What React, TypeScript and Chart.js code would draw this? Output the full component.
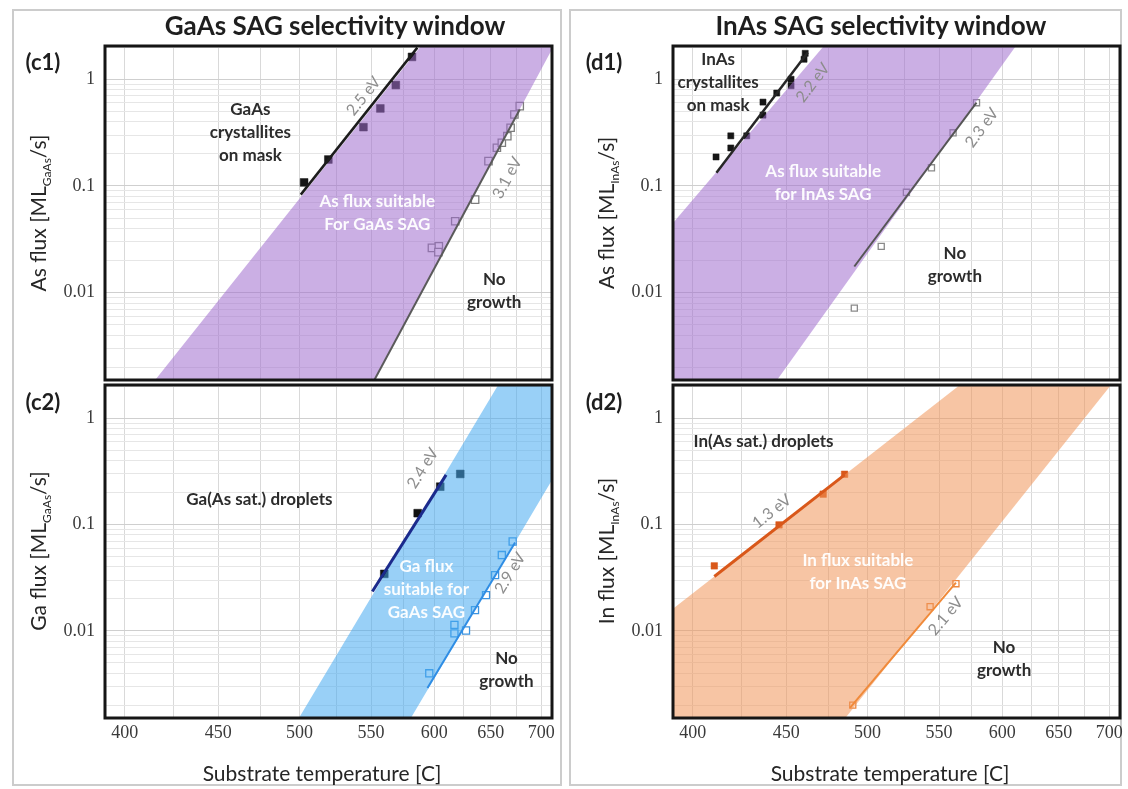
import React, { useEffect, useRef } from "react";
import { Chart, registerables } from "chart.js";

Chart.register(...registerables);

// ---------------- axes ----------------
const gridTemps = [400, 425, 450, 475, 500, 525, 550, 575, 600, 625, 650, 675, 700];
const labeledTemps = [400, 450, 500, 550, 600, 650, 700];
const tempRange = [390.3, 711.2];
const fluxRange = [0.00152, 2.05];
const fluxDecades = [0.001, 0.01, 0.1, 1];
const fluxDecadeLabels = ["0.001", "0.01", "0.1", "1"];
const fluxMinorSteps = [1, 2, 3, 4, 5, 6, 7, 8, 9];

// ---------------- (c1) As flux, GaAs ----------------
const c1FilledT = [503, 519.4, 544.4, 557, 568.9, 581.7];
const c1FilledFlux = [0.108, 0.177, 0.356, 0.533, 0.883, 1.62];
const c1OpenT = [598, 603.8, 603.4, 617.9, 635.6, 647.9, 655.8, 660.5, 665.8, 669, 672.7, 678];
const c1OpenFlux = [0.0263, 0.0272, 0.024, 0.0467, 0.0745, 0.171, 0.228, 0.254, 0.293, 0.351, 0.468, 0.56];
const c1FitAT = [500.8, 586];
const c1FitAFlux = [0.083, 1.98];
const c1FitBT = [552.5, 678];
const c1FitBFlux = [0.00152, 0.52];
const c1BandT = [415.5, 589, 711.2, 711.2, 552.5];
const c1BandFlux = [0.00152, 2.05, 2.05, 1.91, 0.00152];
const c1LabelText = ["GaAs\ncrystallites\non mask", "As flux suitable\nFor GaAs SAG", "No\ngrowth", "2.5 eV", "3.1 eV"];
const c1LabelT = [469, 554.7, 653.3, 544.5, 665.8];
const c1LabelFlux = [0.315, 0.0558, 0.0103, 0.695, 0.119];

// ---------------- (c2) Ga flux, GaAs ----------------
const c2FilledT = [560, 586.3, 605, 622.3];
const c2FilledFlux = [0.0344, 0.128, 0.227, 0.299];
const c2OpenT = [595.8, 617.2, 617.2, 627.4, 635.5, 645.6, 654.1, 660.5, 671];
const c2OpenFlux = [0.004, 0.0114, 0.0095, 0.0101, 0.0157, 0.0217, 0.0335, 0.0517, 0.0693];
const c2FitAT = [551, 610];
const c2FitAFlux = [0.0235, 0.293];
const c2FitBT = [594.3, 673.4];
const c2FitBFlux = [0.00291, 0.0678];
const c2BandT = [499.6, 657, 711.2, 711.2, 580.8];
const c2BandFlux = [0.00152, 2.05, 2.05, 0.263, 0.00152];
const c2LabelText = ["Ga(As sat.) droplets", "Ga flux\nsuitable for\nGaAs SAG", "No\ngrowth", "2.4 eV", "2.9 eV"];
const c2LabelT = [474.5, 593.4, 665, 590.4, 668.5];
const c2LabelFlux = [0.173, 0.0247, 0.00432, 0.338, 0.035];

// ---------------- (d1) As flux, InAs ----------------
const d1FilledT = [411.8, 419.5, 419.5, 428, 436.9, 436.9, 444.6, 452.8, 452.8, 460.4, 461.1];
const d1FilledFlux = [0.187, 0.227, 0.295, 0.295, 0.461, 0.611, 0.743, 1.0, 0.87, 1.54, 1.75];
const d1OpenT = [491.4, 509.1, 526.4, 544.4, 560.6, 578.9];
const d1OpenFlux = [0.00716, 0.0272, 0.0873, 0.148, 0.315, 0.603];
const d1FitAT = [412, 462.6];
const d1FitAFlux = [0.133, 1.78];
const d1FitBT = [491.4, 578.9];
const d1FitBFlux = [0.0176, 0.603];
const d1BandT = [390.3, 472.3, 611.5, 444.8, 390.3];
const d1BandFlux = [0.045, 2.05, 2.05, 0.00152, 0.00152];
const d1LabelText = ["InAs\ncrystallites\non mask", "As flux suitable\nfor InAs SAG", "No\ngrowth", "2.2 eV", "2.3 eV"];
const d1LabelT = [412.9, 471.9, 562, 465.7, 583.2];
const d1LabelFlux = [0.93, 0.107, 0.018, 0.93, 0.351];

// ---------------- (d2) In flux, InAs ----------------
const d2FilledT = [410.9, 445.9, 471.9, 485.2];
const d2FilledFlux = [0.0409, 0.0993, 0.193, 0.297];
const d2OpenT = [490.4, 543.4, 562.8];
const d2OpenFlux = [0.00201, 0.0169, 0.0278];
const d2FitAT = [410.9, 485.2];
const d2FitAFlux = [0.0325, 0.293];
const d2FitBT = [488.6, 562.8];
const d2FitBFlux = [0.00189, 0.0284];
const d2BandT = [390.3, 565.8, 701.7, 485.7, 390.3];
const d2BandFlux = [0.0162, 2.05, 2.05, 0.00152, 0.00152];
const d2LabelText = ["In(As sat.) droplets", "In flux suitable\nfor InAs SAG", "No\ngrowth", "1.3 eV", "2.1 eV"];
const d2LabelT = [437.2, 493.7, 601.5, 441.8, 555];
const d2LabelFlux = [0.603, 0.036, 0.0054, 0.133, 0.0138];

// label kinds (same order in every panel)
const labelKinds = ["dark", "white", "dark", "evA", "evB"];

// ---------------- helpers ----------------
const toInv = (t: number) => 1000 / (t + 273.15);
const fromInv = (u: number) => 1000 / u - 273.15;
const pts = (ts: number[], fs: number[]) => ts.map((t, i) => ({ x: toInv(t), y: fs[i] }));

const Y_AXIS_W = 62;
const X_AXIS_H = 40;
const PAD = 8;

type Panel = {
  key: string;
  box: { left: number; top: number; width: number; height: number };
  showX: boolean;
  filled: { x: number; y: number }[];
  open: { x: number; y: number }[];
  fitA: { x: number; y: number }[];
  fitB: { x: number; y: number }[];
  band: { x: number; y: number }[];
  labelText: string[];
  labelT: number[];
  labelFlux: number[];
  style: {
    band: string;
    fitA: string;
    fitAW: number;
    fitB: string;
    fitBW: number;
    filled: string;
    filledR: number;
    open: string;
    openR: number;
  };
};

const panels: Panel[] = [
  {
    key: "c1",
    box: { left: 105, top: 46, width: 447, height: 334 },
    showX: false,
    filled: pts(c1FilledT, c1FilledFlux),
    open: pts(c1OpenT, c1OpenFlux),
    fitA: pts(c1FitAT, c1FitAFlux),
    fitB: pts(c1FitBT, c1FitBFlux),
    band: pts(c1BandT, c1BandFlux),
    labelText: c1LabelText,
    labelT: c1LabelT,
    labelFlux: c1LabelFlux,
    style: {
      band: "rgba(160,110,205,0.55)",
      fitA: "#1c1c1c",
      fitAW: 2.5,
      fitB: "#5a5a5a",
      fitBW: 2,
      filled: "#161616",
      filledR: 5.5,
      open: "#7d7d7d",
      openR: 5.2,
    },
  },
  {
    key: "c2",
    box: { left: 105, top: 385, width: 447, height: 333 },
    showX: true,
    filled: pts(c2FilledT, c2FilledFlux),
    open: pts(c2OpenT, c2OpenFlux),
    fitA: pts(c2FitAT, c2FitAFlux),
    fitB: pts(c2FitBT, c2FitBFlux),
    band: pts(c2BandT, c2BandFlux),
    labelText: c2LabelText,
    labelT: c2LabelT,
    labelFlux: c2LabelFlux,
    style: {
      band: "rgba(70,170,240,0.55)",
      fitA: "#1b2a8c",
      fitAW: 3,
      fitB: "#2f8de4",
      fitBW: 2,
      filled: "#111111",
      filledR: 5.5,
      open: "#3d94e0",
      openR: 5,
    },
  },
  {
    key: "d1",
    box: { left: 673, top: 46, width: 447, height: 334 },
    showX: false,
    filled: pts(d1FilledT, d1FilledFlux),
    open: pts(d1OpenT, d1OpenFlux),
    fitA: pts(d1FitAT, d1FitAFlux),
    fitB: pts(d1FitBT, d1FitBFlux),
    band: pts(d1BandT, d1BandFlux),
    labelText: d1LabelText,
    labelT: d1LabelT,
    labelFlux: d1LabelFlux,
    style: {
      band: "rgba(160,110,205,0.55)",
      fitA: "#262626",
      fitAW: 2.5,
      fitB: "#555555",
      fitBW: 2,
      filled: "#161616",
      filledR: 4.3,
      open: "#8a8a8a",
      openR: 4.3,
    },
  },
  {
    key: "d2",
    box: { left: 673, top: 385, width: 447, height: 333 },
    showX: true,
    filled: pts(d2FilledT, d2FilledFlux),
    open: pts(d2OpenT, d2OpenFlux),
    fitA: pts(d2FitAT, d2FitAFlux),
    fitB: pts(d2FitBT, d2FitBFlux),
    band: pts(d2BandT, d2BandFlux),
    labelText: d2LabelText,
    labelT: d2LabelT,
    labelFlux: d2LabelFlux,
    style: {
      band: "rgba(240,150,90,0.55)",
      fitA: "#d9581a",
      fitAW: 3,
      fitB: "#f08a3a",
      fitBW: 2,
      filled: "#d9581a",
      filledR: 4.6,
      open: "#ec8840",
      openR: 4.3,
    },
  },
];

const fluxGridValues = fluxDecades
  .flatMap((d) => fluxMinorSteps.map((s) => s * d))
  .filter((v) => v >= fluxRange[0] && v <= fluxRange[1]);

const decadeIndex = (v: number) =>
  fluxDecades.findIndex((d) => Math.abs(Math.log10(v / d)) < 1e-6);

function annotationPlugin(p: Panel) {
  return {
    id: "annot-" + p.key,
    afterDatasetsDraw(chart: any) {
      const { ctx, chartArea: ca } = chart;
      const xs = chart.scales.x;
      const ys = chart.scales.y;
      ctx.save();
      ctx.beginPath();
      ctx.rect(ca.left, ca.top, ca.right - ca.left, ca.bottom - ca.top);
      ctx.clip();
      p.labelText.forEach((txt, i) => {
        const kind = labelKinds[i];
        const x = xs.getPixelForValue(toInv(p.labelT[i]));
        const y = ys.getPixelForValue(p.labelFlux[i]);
        let angle = 0;
        if (kind === "evA" || kind === "evB") {
          const line = kind === "evA" ? p.fitA : p.fitB;
          const x0 = xs.getPixelForValue(line[0].x);
          const y0 = ys.getPixelForValue(line[0].y);
          const x1 = xs.getPixelForValue(line[line.length - 1].x);
          const y1 = ys.getPixelForValue(line[line.length - 1].y);
          angle = Math.atan2(y1 - y0, x1 - x0);
          ctx.font = "16px Lato, 'Open Sans', sans-serif";
          ctx.fillStyle = "#8d8d8d";
        } else if (kind === "white") {
          ctx.font = "bold 17px Lato, 'Open Sans', sans-serif";
          ctx.fillStyle = "rgba(255,255,255,0.95)";
        } else {
          ctx.font = "bold 17px Lato, 'Open Sans', sans-serif";
          ctx.fillStyle = "#2c2c2c";
        }
        ctx.save();
        ctx.translate(x, y);
        ctx.rotate(angle);
        ctx.textAlign = "center";
        ctx.textBaseline = "middle";
        const lines = txt.split("\n");
        const lh = 23;
        lines.forEach((ln, j) => {
          ctx.fillText(ln, 0, (j - (lines.length - 1) / 2) * lh);
        });
        ctx.restore();
      });
      ctx.restore();
    },
    afterDraw(chart: any) {
      const { ctx, chartArea: ca } = chart;
      ctx.save();
      ctx.strokeStyle = "#151515";
      ctx.lineWidth = 3;
      ctx.strokeRect(ca.left, ca.top, ca.right - ca.left, ca.bottom - ca.top);
      ctx.restore();
    },
  };
}

function buildConfig(p: Panel): any {
  const s = p.style;
  return {
    type: "line",
    data: {
      datasets: [
        {
          label: "fit A",
          data: p.fitA,
          borderColor: s.fitA,
          borderWidth: s.fitAW,
          pointRadius: 0,
          fill: false,
          order: 0,
        },
        {
          label: "fit B",
          data: p.fitB,
          borderColor: s.fitB,
          borderWidth: s.fitBW,
          pointRadius: 0,
          fill: false,
          order: 0,
        },
        {
          label: "window",
          data: p.band,
          borderColor: "rgba(0,0,0,0)",
          borderWidth: 0,
          pointRadius: 0,
          backgroundColor: s.band,
          fill: "shape",
          order: 1,
        },
        {
          label: "filled",
          data: p.filled,
          showLine: false,
          pointStyle: "rect",
          pointRadius: s.filledR,
          pointBackgroundColor: s.filled,
          pointBorderColor: s.filled,
          pointBorderWidth: 0.5,
          order: 2,
        },
        {
          label: "open",
          data: p.open,
          showLine: false,
          pointStyle: "rect",
          pointRadius: s.openR,
          pointBackgroundColor: "#ffffff",
          pointBorderColor: s.open,
          pointBorderWidth: 1.3,
          order: 2,
        },
      ],
    },
    options: {
      animation: false,
      responsive: false,
      events: [],
      layout: { padding: { top: PAD, right: PAD, bottom: p.showX ? 0 : PAD, left: 0 } },
      plugins: { legend: { display: false }, tooltip: { enabled: false } },
      scales: {
        x: {
          type: "linear",
          reverse: true,
          min: toInv(tempRange[1]),
          max: toInv(tempRange[0]),
          afterBuildTicks: (axis: any) => {
            axis.ticks = gridTemps.map((t) => ({ value: toInv(t) }));
          },
          afterFit: (axis: any) => {
            axis.height = p.showX ? X_AXIS_H : 0;
            axis.paddingLeft = 0;
            axis.paddingRight = 0;
          },
          ticks: {
            display: p.showX,
            autoSkip: false,
            maxRotation: 0,
            padding: 4,
            color: "#3a3a3a",
            font: { family: "'Liberation Serif', 'DejaVu Serif', serif", size: 18 },
            callback: (v: any) => {
              const t = Math.round(fromInv(Number(v)));
              return labeledTemps.includes(t) ? String(t) : "";
            },
          },
          grid: { drawTicks: false, color: "#d9d9d9", lineWidth: 1 },
          border: { display: false },
        },
        y: {
          type: "logarithmic",
          min: fluxRange[0],
          max: fluxRange[1],
          afterBuildTicks: (axis: any) => {
            axis.ticks = fluxGridValues.map((v) => ({ value: v }));
          },
          afterFit: (axis: any) => {
            axis.width = Y_AXIS_W;
            axis.paddingTop = 0;
            axis.paddingBottom = 0;
          },
          ticks: {
            autoSkip: false,
            padding: 10,
            color: "#3a3a3a",
            font: { family: "'Liberation Serif', 'DejaVu Serif', serif", size: 18 },
            callback: (v: any) => {
              const idx = decadeIndex(Number(v));
              return idx >= 0 ? fluxDecadeLabels[idx] : "";
            },
          },
          grid: {
            drawTicks: false,
            lineWidth: 1,
            color: (c: any) => (c.tick && decadeIndex(c.tick.value) >= 0 ? "#cfcfcf" : "#e6e6e6"),
          },
          border: { display: false },
        },
      },
    },
    plugins: [annotationPlugin(p)],
  };
}

function PanelChart({ p }: { p: Panel }) {
  const ref = useRef<HTMLCanvasElement>(null);
  const w = Y_AXIS_W + p.box.width + PAD;
  const h = PAD + p.box.height + (p.showX ? X_AXIS_H : PAD);
  useEffect(() => {
    if (!ref.current) return;
    const chart = new Chart(ref.current, buildConfig(p));
    return () => chart.destroy();
  }, []);
  return (
    <canvas
      ref={ref}
      width={w}
      height={h}
      style={{
        position: "absolute",
        left: p.box.left - Y_AXIS_W,
        top: p.box.top - PAD,
        width: w,
        height: h,
      }}
    />
  );
}

const sans = "Lato, 'Open Sans', sans-serif";

function Centered({ x, y, children, style }: any) {
  return (
    <div
      style={{
        position: "absolute",
        left: x,
        top: y,
        transform: "translate(-50%, -50%)",
        whiteSpace: "nowrap",
        fontFamily: sans,
        color: "#1e1e1e",
        lineHeight: 1,
        ...style,
      }}
    >
      {children}
    </div>
  );
}

function YTitle({ x, y, lead, sub }: any) {
  return (
    <div
      style={{
        position: "absolute",
        left: x,
        top: y,
        transform: "translate(-50%, -50%) rotate(-90deg)",
        whiteSpace: "nowrap",
        fontFamily: sans,
        fontSize: 21,
        color: "#262626",
        lineHeight: 1,
      }}
    >
      {lead} [ML
      <sub style={{ fontSize: 12 }}>{sub}</sub>
      /s]
    </div>
  );
}

export default function App() {
  return (
    <div
      style={{
        position: "absolute",
        left: 0,
        top: 0,
        width: 1128,
        height: 789,
        background: "#ffffff",
        overflow: "hidden",
      }}
    >
      <div
        style={{
          position: "absolute",
          left: 12,
          top: 9,
          width: 550,
          height: 777,
          border: "2px solid #cccccc",
          boxSizing: "border-box",
        }}
      />
      <div
        style={{
          position: "absolute",
          left: 569,
          top: 9,
          width: 553,
          height: 777,
          border: "2px solid #cccccc",
          boxSizing: "border-box",
        }}
      />

      {panels.map((p) => (
        <PanelChart key={p.key} p={p} />
      ))}

      <Centered x={335} y={25} style={{ fontSize: 26, fontWeight: 700 }}>
        GaAs SAG selectivity window
      </Centered>
      <Centered x={881} y={25} style={{ fontSize: 26, fontWeight: 700 }}>
        InAs SAG selectivity window
      </Centered>

      <Centered x={43} y={62} style={{ fontSize: 22, fontWeight: 700 }}>(c1)</Centered>
      <Centered x={43} y={402} style={{ fontSize: 22, fontWeight: 700 }}>(c2)</Centered>
      <Centered x={604} y={62} style={{ fontSize: 22, fontWeight: 700 }}>(d1)</Centered>
      <Centered x={604} y={402} style={{ fontSize: 22, fontWeight: 700 }}>(d2)</Centered>

      <YTitle x={40} y={213} lead="As flux" sub="GaAs" />
      <YTitle x={40} y={551} lead="Ga flux" sub="GaAs" />
      <YTitle x={608} y={213} lead="As flux" sub="InAs" />
      <YTitle x={608} y={551} lead="In flux" sub="InAs" />

      <Centered x={322} y={772} style={{ fontSize: 21, color: "#262626" }}>
        Substrate temperature [C]
      </Centered>
      <Centered x={890} y={772} style={{ fontSize: 21, color: "#262626" }}>
        Substrate temperature [C]
      </Centered>
    </div>
  );
}
